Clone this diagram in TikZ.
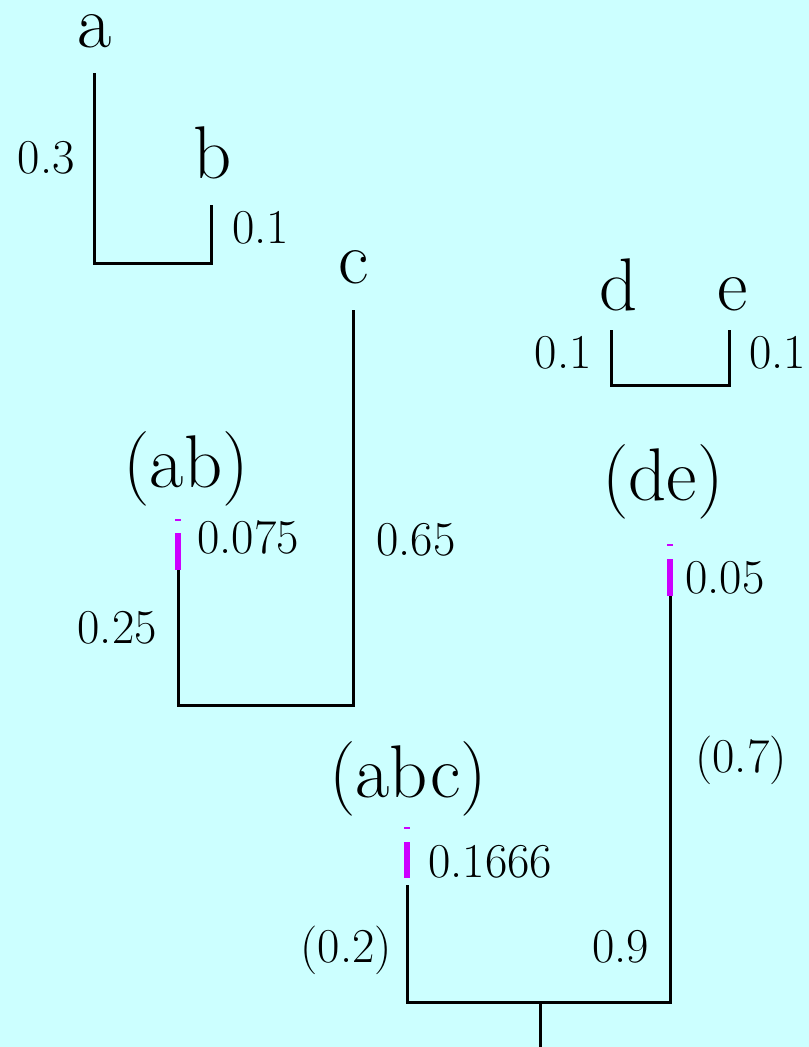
\documentclass[tikz,border=0pt]{standalone}
\usepackage{tikz}
\definecolor{bgcyan}{RGB}{204,255,255}
\definecolor{barmag}{RGB}{204,0,255}
\tikzset{
  big/.style={font=\fontsize{56}{64}\selectfont, inner sep=0pt, anchor=base},
  num/.style={font=\fontsize{36.5}{42}\selectfont, inner sep=0pt},
  branch/.style={line width=2.25pt, line join=miter, draw=black},
  bar/.style={fill=barmag, draw=none},
}
\begin{document}
\begin{tikzpicture}[x=0.75pt,y=-0.75pt]
\fill[bgcyan] (0,0) rectangle (809,1047);
\useasboundingbox (0,0) rectangle (809,1047);

% leaf and cluster labels
\node[big] (la) at (95,47) {a};
\node[big] (lb) at (213,178) {b};
\node[big] (lc) at (354,283) {c};
\node[big] (ld) at (619,310) {d};
\node[big] (le) at (733,310) {e};
\node[big] (lab) at (186,487) {(ab)};
\node[big] (lde) at (663,500) {(de)};
\node[big] (labc) at (408,797) {(abc)};

% branch end points
\coordinate (aTop) at (94,73);
\coordinate (bTop) at (211,205);
\coordinate (abL) at (94,263);
\coordinate (abR) at (211,263);
\coordinate (cTop) at (353,310);
\coordinate (abTop) at (178,570);
\coordinate (abcL) at (178,705);
\coordinate (abcR) at (353,705);
\coordinate (dTop) at (611,330);
\coordinate (eTop) at (729,330);
\coordinate (deL) at (611,385);
\coordinate (deR) at (729,385);
\coordinate (abcTop) at (407,885);
\coordinate (deTop) at (670,596);
\coordinate (rootL) at (407,1002);
\coordinate (rootR) at (670,1002);
\coordinate (rootM) at (540,1002);
\coordinate (rootEnd) at (540,1047);

% branches
\draw[branch] (aTop) -- (abL) -- (abR) -- (bTop);
\draw[branch] (abTop) -- (abcL) -- (abcR) -- (cTop);
\draw[branch] (dTop) -- (deL) -- (deR) -- (eTop);
\draw[branch] (abcTop) -- (rootL) -- (rootR) -- (deTop);
\draw[branch] (rootM) -- (rootEnd);

% magenta bars
\fill[bar] (175,519) rectangle (181,521);
\fill[bar] (175,533) rectangle (181,570);
\fill[bar] (667,544) rectangle (673,546);
\fill[bar] (667,559) rectangle (673,596);
\fill[bar] (404,827) rectangle (410,829);
\fill[bar] (404,842) rectangle (410,878);

% branch lengths
\node[num, anchor=base east] (n03) at (75,173) {0.3};
\node[num, anchor=base west] (n01b) at (232,243) {0.1};
\node[num, anchor=base west] (n065) at (376,555) {0.65};
\node[num, anchor=base west] (n0075) at (197,553) {0.075};
\node[num, anchor=base east] (n025) at (157,643) {0.25};
\node[num, anchor=base east] (n01d) at (592,368) {0.1};
\node[num, anchor=base west] (n01e) at (749,368) {0.1};
\node[num, anchor=base west] (n005) at (685,593) {0.05};
\node[num, anchor=base west] (n07) at (695,772) {(0.7)};
\node[num, anchor=base west] (n01666) at (428,877) {0.1666};
\node[num, anchor=base east] (n02) at (392,962) {(0.2)};
\node[num, anchor=base west] (n09) at (592,962) {0.9};
\end{tikzpicture}
\end{document}
